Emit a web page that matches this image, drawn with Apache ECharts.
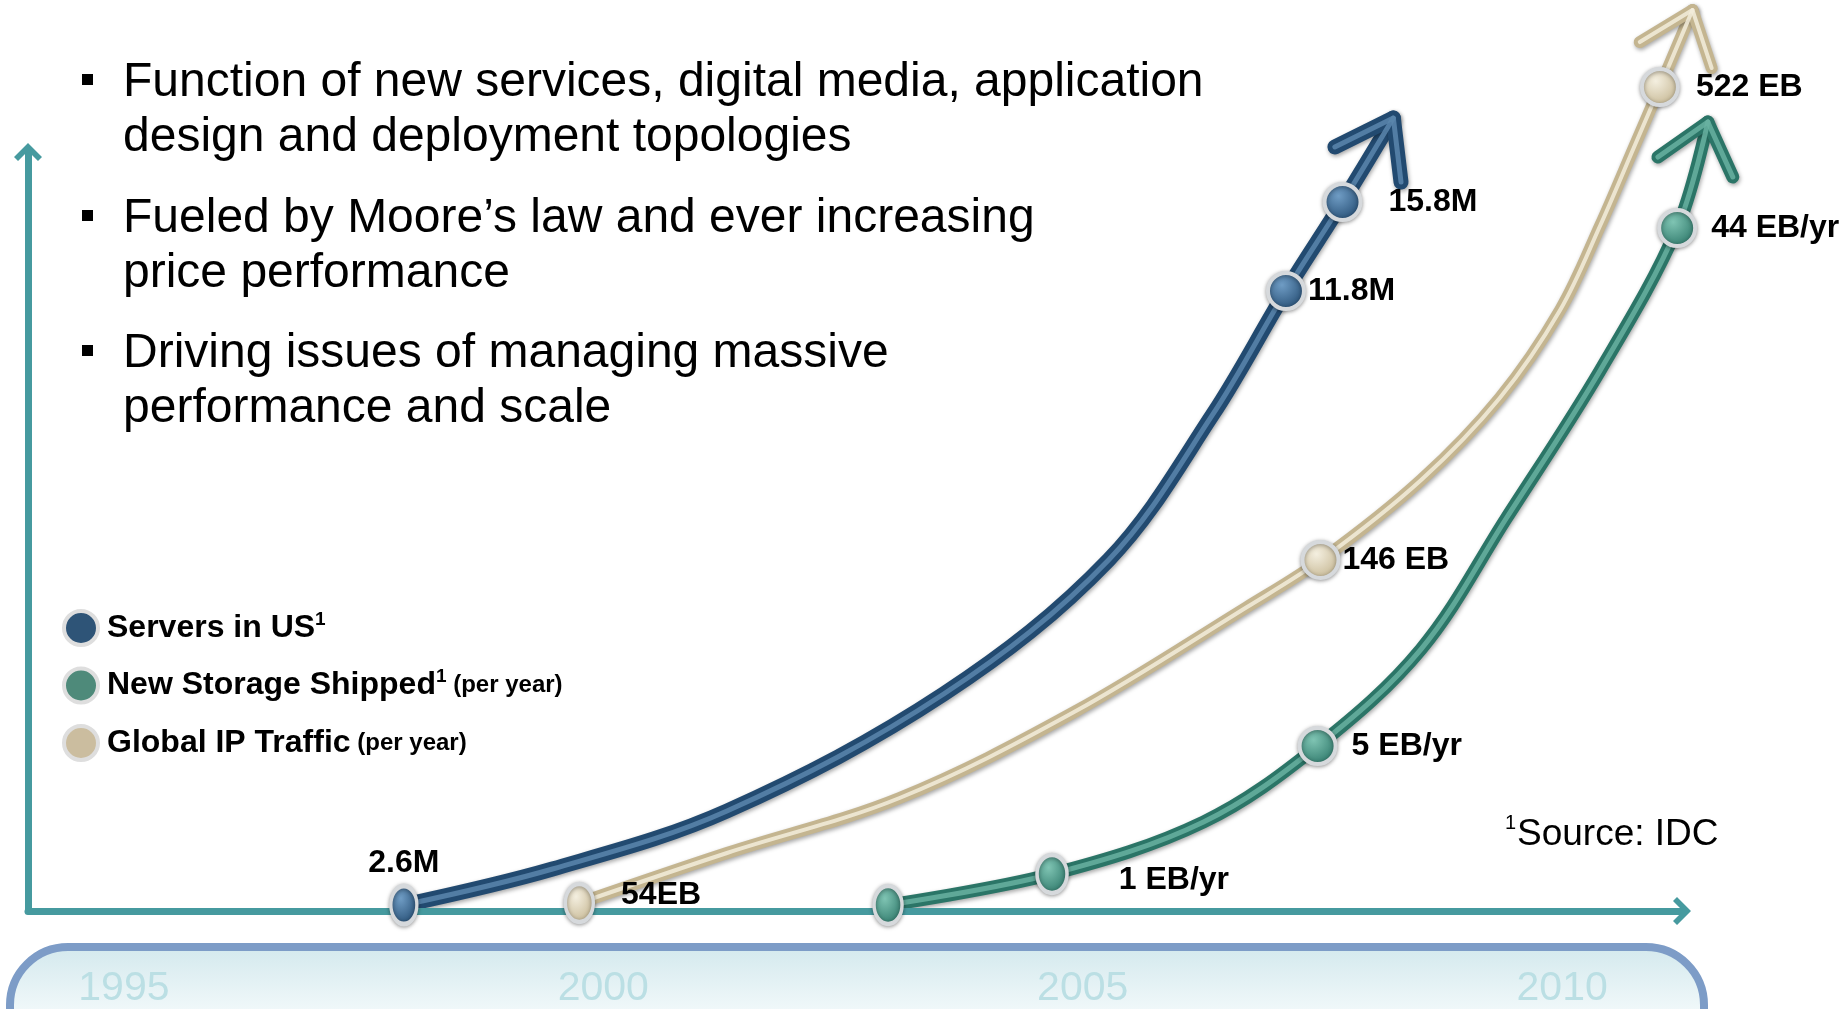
<!DOCTYPE html>
<html><head><meta charset="utf-8">
<style>html,body{margin:0;padding:0;background:#fff;}#c{width:1841px;height:1009px;}</style>
<script src="https://cdn.jsdelivr.net/npm/echarts@6/dist/echarts.min.js"></script>
</head><body><div id="c"></div>
<script>
const FONT = '"Liberation Sans", Arial, Helvetica, sans-serif';

// ---- text content ----
const bulletLines = [
  ['Function of new services, digital media, application', 'design and deployment topologies'],
  ['Fueled by Moore\u2019s law and ever increasing', 'price performance'],
  ['Driving issues of managing massive', 'performance and scale']
];
const yearTicks = [1995, 2000, 2005, 2010];
const seriesNames = ['Servers in US', 'New Storage Shipped', 'Global IP Traffic'];
const legendSup = ['1', '1', ''];
const legendNote = ['', '(per year)', '(per year)'];
const sourceNote = 'Source: IDC';

// ---- Servers in US (curve path read along the tube: year, relative height) ----
const serversCurveYears   = [1997.92, 1999.47, 2001.29, 2003.55, 2005.27, 2006.36, 2007.12, 2007.71, 2008.24];
const serversCurveHeights = [0.92, 5.66, 13.29, 28.68, 46.32, 65.53, 81.71, 93.42, 104.47];
const serversArrowYears   = [2007.63, 2008.24, 2008.32];
const serversArrowHeights = [100.66, 104.47, 96.05];
const serversPointYears   = [1997.92, 2007.12, 2007.71];
const serversPointHeights = [0.92, 81.71, 93.42];
const serversLabels       = ['2.6M', '11.8M', '15.8M'];

// ---- Global IP Traffic ----
const ipCurveYears   = [1999.75, 2001.29, 2003.09, 2004.91, 2006.71, 2007.50, 2008.53, 2009.35, 2009.98, 2010.40, 2010.76, 2011.02, 2011.36];
const ipCurveHeights = [1.18, 7.76, 15.0, 26.3, 40.1, 46.45, 56.84, 67.63, 79.21, 90.39, 100.92, 108.55, 118.68];
const ipArrowYears   = [2010.81, 2011.36, 2011.56];
const ipArrowHeights = [114.47, 118.68, 111.05];
const ipPointYears   = [1999.75, 2007.48, 2011.02];
const ipPointHeights = [1.18, 46.32, 108.55];
const ipLabels       = ['54EB', '146 EB', '522 EB'];

// ---- New Storage Shipped ----
const stCurveYears   = [2002.97, 2004.68, 2006.26, 2007.45, 2008.53, 2009.42, 2010.40, 2011.20, 2011.52];
const stCurveHeights = [0.92, 5.0, 11.84, 21.84, 34.6, 51.84, 71.32, 90.0, 103.95];
const stArrowYears   = [2011.0, 2011.52, 2011.78];
const stArrowHeights = [99.34, 103.95, 96.71];
const stPointYears   = [2002.97, 2004.68, 2007.45, 2011.20];
const stPointHeights = [0.92, 5.0, 21.84, 90.0];
const stLabels       = ['', '1 EB/yr', '5 EB/yr', '44 EB/yr'];

// ---- styling (kept apart from data) ----
const palette = {
  servers: {base: '#224a70', hi: '#5a86ad', flat: '#2e5477', light: '#6f9cc4', w: 15},
  ip:      {base: '#c4b590', hi: '#f3eddc', flat: '#cbbd9f', light: '#f4efe0', w: 12},
  storage: {base: '#2b7567', hi: '#68b1a1', flat: '#4e8a7a', light: '#7fc4b3', w: 13}
};
const labelPlace = {
  servers: [{position: 'top', distance: 4}, {position: 'right', distance: 2}, {position: 'right', distance: 26}],
  ip: [{position: 'right', distance: 26, offset: [0, -8]}, {position: 'right', distance: 2}, {position: 'right', distance: 16}],
  storage: [{}, {position: 'right', distance: 50, offset: [0, 6]}, {position: 'right', distance: 14}, {position: 'right', distance: 14}]
};
const markerSize = {
  servers: [[26, 38], 36, 36],
  ip: [[28, 38], 36, 36],
  storage: [[28, 38], [30, 38], 36, 36]
};

function pairs(xs, ys) { return xs.map((x, i) => [x, ys[i]]); }

function tube(xs, ys, pal, smooth) {
  const d = pairs(xs, ys);
  return [
    {type: 'line', data: d, showSymbol: false, smooth: smooth,
     clip: false, silent: true, z: 3,
     lineStyle: {width: pal.w, color: pal.base, cap: 'round', join: 'round',
       shadowColor: 'rgba(0,0,0,0.35)', shadowBlur: 4, shadowOffsetX: 1, shadowOffsetY: 2}},
    {type: 'line', data: d, showSymbol: false, smooth: smooth,
     clip: false, silent: true, z: 4,
     lineStyle: {width: Math.round(pal.w * 0.35), color: pal.hi, opacity: 0.85, cap: 'round', join: 'round'}}
  ];
}

function markers(name, key, xs, ys, labels) {
  const pal = palette[key];
  return {
    type: 'scatter', name: name, clip: false, silent: true, z: 6,
    data: xs.map((x, i) => {
      const lp = labelPlace[key][i] || {};
      return {
        value: [x, ys[i]],
        symbolSize: markerSize[key][i],
        label: {show: !!labels[i], formatter: labels[i], position: lp.position || 'right',
                distance: lp.distance || 5, offset: lp.offset || [0, 0], color: '#000'}
      };
    }),
    symbol: 'circle',
    itemStyle: {
      opacity: 1,
      color: {type: 'radial', x: 0.4, y: 0.35, r: 0.7,
              colorStops: [{offset: 0, color: pal.light}, {offset: 1, color: pal.base}]},
      borderColor: '#d6d9dc', borderWidth: 4,
      shadowColor: 'rgba(0,0,0,0.35)', shadowBlur: 4, shadowOffsetY: 1
    },
    label: {color: '#000', opacity: 1, textBorderWidth: 0, fontFamily: FONT, fontWeight: 'bold', fontSize: 32}
  };
}

const chevron = 'path://M0,14 L14,0 L28,14 L24,18 L14,8 L4,18 Z';

const graphics = [
  {type: 'rect', z: -10, shape: {x: 10, y: 947, width: 1694, height: 160, r: 58},
   style: {fill: {type: 'linear', x: 0, y: 0, x2: 0, y2: 1,
                  colorStops: [{offset: 0, color: '#d2e8ed'}, {offset: 0.45, color: '#f4fafb'}, {offset: 1, color: '#ffffff'}]},
           stroke: '#7d9cc7', lineWidth: 8}}
];
const bulletTops = [55, 191, 326];
const bulletCenters = [80, 216, 351];
bulletLines.forEach((lines, i) => {
  graphics.push({type: 'rect', shape: {x: 82, y: bulletCenters[i] - 6, width: 11, height: 11}, style: {fill: '#000'}});
  graphics.push({type: 'text', x: 123, y: bulletTops[i],
    style: {text: lines.join('\n'), font: '48px ' + FONT, fill: '#000', lineHeight: 55, verticalAlign: 'top'}});
});
graphics.push({type: 'text', x: 1505, y: 813, style: {text: '1', font: '20px ' + FONT, fill: '#000', verticalAlign: 'top'}});
graphics.push({type: 'text', x: 1517, y: 816, style: {text: sourceNote, font: '37px ' + FONT, fill: '#000', verticalAlign: 'top'}});

const legendKeys = ['servers', 'storage', 'ip'];
const hiddenAxis = {show: false, axisLine: {show: false}, axisTick: {show: false}, splitLine: {show: false}, axisLabel: {show: false}};

const option = {
  animation: false,
  backgroundColor: '#ffffff',
  grid: [
    {left: 28, right: 39.2, top: 152, bottom: 97, containLabel: false},
    {left: 28, right: 159, top: 152, bottom: 97, containLabel: false}
  ],
  xAxis: [
    Object.assign({type: 'value', gridIndex: 0, min: 1994, max: 2012.5}, hiddenAxis),
    {
      type: 'value', gridIndex: 1, min: 1994, max: 2011.25, z: 5,
      axisLine: {show: true, symbol: ['none', chevron], symbolSize: [28, 18],
                 lineStyle: {color: '#469a9f', width: 7}},
      axisTick: {show: false}, splitLine: {show: false},
      axisLabel: {customValues: yearTicks, formatter: v => String(v), margin: 57, fontSize: 41,
                  fontFamily: FONT, color: '#bbdfe4'}
    }
  ],
  yAxis: [
    Object.assign({type: 'value', gridIndex: 0, min: 0, max: 100}, hiddenAxis),
    {
      type: 'value', gridIndex: 1, min: 0, max: 100,
      axisLine: {show: true, onZero: false, symbol: ['none', chevron], symbolSize: [28, 18],
                 lineStyle: {color: '#469a9f', width: 7}},
      axisTick: {show: false}, splitLine: {show: false}, axisLabel: {show: false}
    }
  ],
  legend: {
    orient: 'vertical', left: 62, top: 609, padding: 0, itemWidth: 34, itemHeight: 34, itemGap: 19.5,
    icon: 'circle', selectedMode: false,
    data: seriesNames.map((n, i) => ({name: n, itemStyle: {opacity: 1, color: palette[legendKeys[i]].flat, borderColor: '#dedede', borderWidth: 4}})),
    formatter: function (name) {
      const i = seriesNames.indexOf(name);
      let s = '{b|' + name + '}';
      if (legendSup[i]) s += '{s|' + legendSup[i] + '}';
      if (legendNote[i]) s += '{sp| }{p|' + legendNote[i] + '}';
      return s;
    },
    textStyle: {
      rich: {
        b: {fontFamily: FONT, fontWeight: 'bold', fontSize: 32, color: '#000', lineHeight: 36, padding: [0, 0, 0, 4]},
        s: {fontFamily: FONT, fontWeight: 'bold', fontSize: 19, color: '#000', lineHeight: 22, verticalAlign: 'top'},
        sp: {fontFamily: FONT, fontSize: 24, lineHeight: 36},
        p: {fontFamily: FONT, fontWeight: 'bold', fontSize: 24, color: '#000', lineHeight: 36}
      }
    }
  },
  graphic: graphics,
  series: [].concat(
    tube(serversCurveYears, serversCurveHeights, palette.servers, 0.35),
    tube(serversArrowYears, serversArrowHeights, palette.servers, false),
    tube(ipCurveYears, ipCurveHeights, palette.ip, 0.35),
    tube(ipArrowYears, ipArrowHeights, palette.ip, false),
    tube(stCurveYears, stCurveHeights, palette.storage, 0.35),
    tube(stArrowYears, stArrowHeights, palette.storage, false),
    [
      markers(seriesNames[0], 'servers', serversPointYears, serversPointHeights, serversLabels),
      markers(seriesNames[1], 'storage', stPointYears, stPointHeights, stLabels),
      markers(seriesNames[2], 'ip', ipPointYears, ipPointHeights, ipLabels)
    ]
  )
};

const chart = echarts.init(document.getElementById('c'), null, {renderer: 'canvas'});
chart.setOption(option);
</script>
</body></html>
